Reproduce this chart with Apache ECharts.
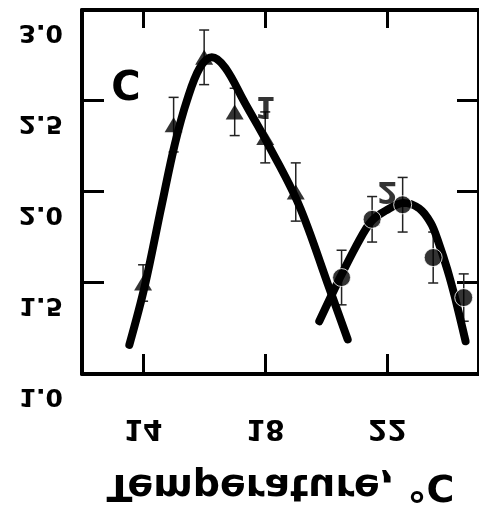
<!DOCTYPE html>
<html><head><meta charset="utf-8">
<script src="https://cdn.jsdelivr.net/npm/echarts@6/dist/echarts.min.js"></script>
<style>
html,body{margin:0;padding:0;background:#fff;overflow:hidden}
#c{width:479px;height:514px;transform:scaleY(-1);transform-origin:50% 50%;}
</style>
</head><body><div id="c"></div>
<script>
// ---- data ----
const xTickValues = [14, 18, 22];
const temp1 = [14, 15, 16, 17, 18, 19];
const rate1 = [1.50, 2.37, 2.74, 2.44, 2.30, 2.00];
const err1  = [0.10, 0.15, 0.15, 0.13, 0.14, 0.16];
const temp2 = [20.5, 21.5, 22.5, 23.5, 24.5];
const rate2 = [1.53, 1.85, 1.93, 1.64, 1.42];
const err2  = [0.15, 0.125, 0.15, 0.14, 0.13];
const fit1X = [13.55, 14.05, 14.60, 15.05, 15.45, 15.85, 16.25, 16.70, 17.30, 18.10, 19.10, 20.10, 20.70];
const fit1Y = [1.16, 1.48, 1.92, 2.27, 2.51, 2.68, 2.74, 2.68, 2.50, 2.26, 1.93, 1.47, 1.19];
const fit2X = [19.77, 20.45, 21.00, 21.48, 21.97, 22.52, 23.04, 23.42, 23.68, 23.97, 24.23, 24.56];
const fit2Y = [1.29, 1.53, 1.71, 1.84, 1.90, 1.94, 1.91, 1.83, 1.72, 1.57, 1.41, 1.18];
const curveNames = ['1', '2'];
const curveLabelX = [18.0, 22.0];
const curveLabelY = [2.48, 2.01];
const xName = 'Temperature, °C';
const panelLetter = 'C';

const FONT = 'DejaVu Sans';
const chart = echarts.init(document.getElementById('c'), null, {renderer: 'canvas'});

function zip(a, b) { return a.map((v, i) => [v, b[i]]); }
function errSeries(xs, ys, es) {
  return {
    type: 'custom', z: 2, silent: true,
    data: xs.map((x, i) => [x, ys[i] - es[i], ys[i] + es[i]]),
    encode: {x: 0, y: [1, 2]},
    renderItem: function (params, api) {
      const lo = api.coord([api.value(0), api.value(1)]);
      const hi = api.coord([api.value(0), api.value(2)]);
      const w = 5, st = {stroke: '#222', lineWidth: 1.5};
      return {type: 'group', children: [
        {type: 'line', shape: {x1: lo[0], y1: lo[1], x2: hi[0], y2: hi[1]}, style: st},
        {type: 'line', shape: {x1: lo[0] - w, y1: lo[1], x2: lo[0] + w, y2: lo[1]}, style: st},
        {type: 'line', shape: {x1: hi[0] - w, y1: hi[1], x2: hi[0] + w, y2: hi[1]}, style: st}
      ]};
    }
  };
}
const axisLineStyle = {show: true, onZero: false, lineStyle: {color: '#000', width: 4}};
const tickStyle = {color: '#000', width: 3};
const curveStyle = {color: '#000', width: 8, cap: 'round', join: 'round'};

chart.setOption({
  animation: false,
  backgroundColor: '#fff',
  grid: {left: 82, width: 402, top: 140, height: 364, containLabel: false},
  xAxis: [
    {type: 'value', position: 'top', min: 12, max: 25, splitLine: {show: false},
     axisLine: axisLineStyle,
     axisTick: {show: true, inside: true, length: 20, lineStyle: tickStyle, customValues: xTickValues},
     axisLabel: {show: true, customValues: xTickValues, fontFamily: FONT, fontWeight: 'bold', fontSize: 28, color: '#000', margin: 39},
     name: xName, nameLocation: 'middle', nameGap: 92,
     nameTextStyle: {fontFamily: FONT, fontWeight: 'bold', fontSize: 38, color: '#000'}},
    {type: 'value', position: 'bottom', min: 12, max: 25, splitLine: {show: false},
     axisLine: axisLineStyle,
     axisTick: {show: true, inside: true, length: 18, lineStyle: tickStyle, customValues: xTickValues},
     axisLabel: {show: false}}
  ],
  yAxis: [
    {type: 'value', position: 'left', inverse: true, min: 1, max: 3, interval: 0.5, splitLine: {show: false},
     axisLine: axisLineStyle,
     axisTick: {show: true, inside: true, length: 22, lineStyle: tickStyle},
     axisLabel: {show: true, fontFamily: FONT, fontWeight: 'bold', fontSize: 25, color: '#000', margin: 19,
       verticalAlign: 'bottom', lineHeight: 44, formatter: v => v.toFixed(1)}},
    {type: 'value', position: 'right', inverse: true, min: 1, max: 3, interval: 0.5, splitLine: {show: false},
     axisLine: axisLineStyle,
     axisTick: {show: true, inside: true, length: 22, lineStyle: tickStyle},
     axisLabel: {show: false}}
  ],
  graphic: [{type: 'text', x: 126, y: 434, style: {text: panelLetter, font: 'bold 40px "DejaVu Sans"', fill: '#000', align: 'center', verticalAlign: 'middle'}}],
  series: [
    errSeries(temp1, rate1, err1),
    errSeries(temp2, rate2, err2),
    {type: 'line', data: zip(fit1X, fit1Y), smooth: 0.35, showSymbol: false, z: 3, lineStyle: curveStyle},
    {type: 'line', data: zip(fit2X, fit2Y), smooth: 0.35, showSymbol: false, z: 3, lineStyle: curveStyle},
    {type: 'scatter', data: zip(temp1, rate1), symbol: 'triangle', symbolRotate: 180, symbolSize: [18, 15], z: 4,
     itemStyle: {color: '#000'}},
    {type: 'scatter', data: zip(temp2, rate2), symbol: 'circle', symbolSize: 18, z: 4,
     itemStyle: {color: '#000', borderColor: '#fff', borderWidth: 1}},
    {type: 'scatter', symbolSize: 0, z: 5,
     data: curveNames.map((n, i) => ({name: n, value: [curveLabelX[i], curveLabelY[i]]})),
     label: {show: true, position: 'inside', formatter: p => p.name, fontFamily: FONT, fontWeight: 'bold', fontSize: 30, color: '#000'}}
  ]
});
</script>
</body></html>
